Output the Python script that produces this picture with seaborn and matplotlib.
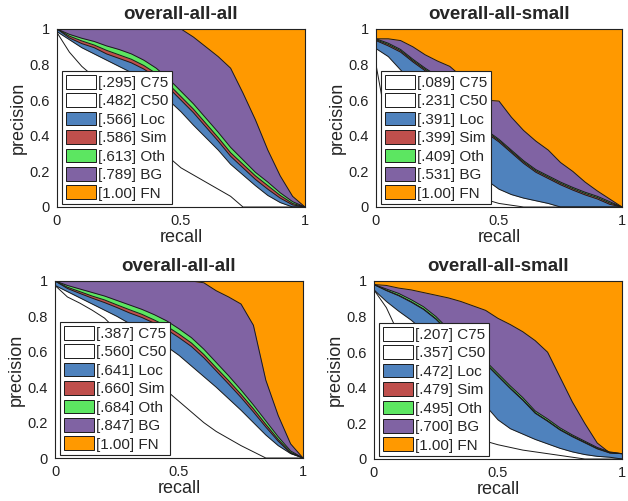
import matplotlib
matplotlib.use('Agg')
import matplotlib.pyplot as plt
import seaborn as sns
from matplotlib.patches import Patch

# recall grid shared by all panels
recall = [0.00, 0.05, 0.10, 0.15, 0.20, 0.25, 0.30, 0.35, 0.40, 0.45, 0.50,
          0.55, 0.60, 0.65, 0.70, 0.75, 0.80, 0.85, 0.90, 0.95, 1.00]

names = ['C75', 'C50', 'Loc', 'Sim', 'Oth', 'BG', 'FN']
titles = ['overall-all-all', 'overall-all-small', 'overall-all-all', 'overall-all-small']

# top-left panel
tl_c75 = [.98, .87, .79, .73, .67, .61, .53, .45, .36, .28, .22, .18, .14, .10, .06, 0, 0, 0, 0, 0, 0]
tl_c50 = [.985, .94, .895, .86, .825, .79, .755, .715, .665, .60, .535, .46, .39, .32, .24, .18, .12, .065, .025, 0, 0]
tl_loc = [1.0, .95, .918, .895, .86, .835, .81, .775, .73, .67, .60, .53, .45, .37, .285, .22, .155, .10, .05, .012, 0]
tl_sim = [1.0, .96, .933, .91, .88, .855, .83, .795, .75, .69, .62, .55, .47, .39, .305, .24, .175, .12, .065, .02, 0]
tl_oth = [1.0, .97, .948, .93, .905, .885, .86, .825, .78, .72, .65, .58, .50, .42, .335, .265, .195, .14, .08, .03, 0]
tl_bg = [1, 1, 1, 1, 1, 1, 1, 1, 1, 1, 1, .955, .90, .845, .78, .64, .49, .32, .175, .06, 0]
tl_ap = ['.295', '.482', '.566', '.586', '.613', '.789', '1.00']

# top-right panel
tr_c75 = [.80, .42, .33, .27, .22, .17, .13, .10, .07, .04, .02, .01, 0, 0, 0, 0, 0, 0, 0, 0, 0]
tr_c50 = [.89, .845, .77, .70, .62, .53, .44, .35, .25, .15, .10, .07, .05, .035, .02, 0, 0, 0, 0, 0, 0]
tr_loc = [.935, .905, .87, .815, .765, .72, .645, .565, .485, .415, .365, .305, .245, .195, .16, .125, .095, .068, .045, .015, 0]
tr_sim = [.94, .913, .878, .823, .773, .728, .653, .573, .493, .423, .373, .313, .253, .203, .168, .133, .103, .076, .053, .023, 0]
tr_oth = [.945, .92, .885, .83, .78, .735, .66, .58, .50, .43, .38, .32, .26, .21, .175, .14, .11, .083, .06, .03, 0]
tr_bg = [.945, .945, .935, .90, .855, .82, .79, .73, .65, .60, .595, .505, .43, .37, .32, .25, .20, .14, .09, .045, 0]
tr_ap = ['.089', '.231', '.391', '.399', '.409', '.531', '1.00']

# bottom-left panel
bl_c75 = [.975, .91, .875, .835, .79, .72, .62, .55, .46, .38, .32, .26, .20, .15, .11, .07, .035, 0, 0, 0, 0]
bl_c50 = [.975, .94, .905, .87, .835, .80, .76, .72, .68, .63, .58, .52, .46, .40, .335, .27, .20, .13, .07, .025, 0]
bl_loc = [1.0, .958, .93, .903, .878, .85, .82, .794, .762, .726, .68, .63, .566, .492, .418, .342, .26, .175, .095, .027, 0]
bl_sim = [1.0, .965, .94, .915, .893, .865, .838, .812, .78, .745, .70, .65, .585, .51, .437, .36, .278, .19, .105, .032, 0]
bl_oth = [1.0, .975, .955, .935, .915, .89, .865, .84, .81, .775, .73, .68, .615, .54, .465, .385, .30, .21, .12, .04, 0]
bl_bg = [1, 1, 1, 1, 1, 1, 1, 1, 1, 1, 1, 1, .99, .945, .91, .87, .75, .44, .24, .08, 0]
bl_ap = ['.387', '.560', '.641', '.660', '.684', '.847', '1.00']

# bottom-right panel
br_c75 = [.95, .85, .70, .55, .42, .32, .24, .18, .13, .10, .08, .065, .05, .04, .03, .02, .01, 0, 0, 0, 0]
br_c50 = [.95, .885, .83, .78, .72, .64, .56, .48, .40, .30, .22, .17, .14, .11, .085, .06, .04, .025, .015, .01, 0]
br_loc = [.98, .946, .917, .881, .84, .785, .715, .65, .595, .535, .465, .395, .33, .257, .212, .163, .125, .091, .057, .034, .03]
br_sim = [.98, .948, .92, .884, .843, .788, .718, .653, .598, .538, .468, .398, .333, .26, .215, .166, .128, .094, .06, .036, .03]
br_oth = [.98, .955, .93, .895, .855, .80, .73, .665, .61, .55, .48, .41, .345, .27, .225, .175, .135, .10, .065, .04, .03]
br_bg = [.98, .975, .96, .95, .935, .92, .905, .885, .86, .835, .79, .755, .715, .665, .60, .46, .32, .20, .09, .035, .03]
br_ap = ['.207', '.357', '.472', '.479', '.495', '.700', '1.00']

fn = [1.0] * len(recall)

colors = ['#ffffff', '#ffffff', '#4f82bd', '#bf4f4c', '#5ce661', '#8063a3', '#ff9900']

sns.set_theme(style='white')
plt.rcParams['font.family'] = ['Liberation Sans', 'DejaVu Sans']

fig = plt.figure(figsize=(6.28, 5.01), dpi=100)
boxes = [
    [57 / 628, 1 - 207 / 501, 248 / 628, 178 / 501],
    [376 / 628, 1 - 207 / 501, 246 / 628, 178 / 501],
    [55 / 628, 1 - 458 / 501, 248 / 628, 177 / 501],
    [374 / 628, 1 - 459 / 501, 248 / 628, 178 / 501],
]
panels = [
    [tl_c75, tl_c50, tl_loc, tl_sim, tl_oth, tl_bg, fn],
    [tr_c75, tr_c50, tr_loc, tr_sim, tr_oth, tr_bg, fn],
    [bl_c75, bl_c50, bl_loc, bl_sim, bl_oth, bl_bg, fn],
    [br_c75, br_c50, br_loc, br_sim, br_oth, br_bg, fn],
]
aps = [tl_ap, tr_ap, bl_ap, br_ap]

for box, curves, ap, title in zip(boxes, panels, aps, titles):
    ax = fig.add_axes(box)
    # draw largest area first so smaller ones stack on top
    for i in range(6, -1, -1):
        ax.fill_between(recall, 0, curves[i], color=colors[i], lw=0)
        sns.lineplot(x=recall, y=curves[i], ax=ax, color='#1a1a1a', lw=0.7,
                     sort=False, estimator=None)
    ax.set_xlim(0, 1)
    ax.set_ylim(0, 1)
    ax.set_xticks([0, 0.5, 1])
    ax.set_xticklabels(['0', '0.5', '1'])
    ax.set_yticks([0, 0.2, 0.4, 0.6, 0.8, 1])
    ax.set_yticklabels(['0', '0.2', '0.4', '0.6', '0.8', '1'])
    ax.tick_params(direction='in', length=3, width=0.6, top=True, right=True,
                   bottom=True, left=True, labelsize=10.5, pad=5, colors='#222222')
    for sp in ax.spines.values():
        sp.set_color('#222222')
        sp.set_linewidth(0.8)
    ax.set_xlabel('recall', fontsize=13, labelpad=1)
    ax.set_ylabel('precision', fontsize=13, labelpad=2)
    ax.set_title(title, fontsize=13.5, fontweight='bold', pad=7)

    handles = [Patch(facecolor=colors[i], edgecolor='k', lw=0.7) for i in range(7)]
    labels = ['[%s] %s' % (ap[i], names[i]) for i in range(7)]
    leg = ax.legend(handles, labels, loc='lower left', bbox_to_anchor=(0.02, 0.015),
                    fontsize=11, frameon=True, fancybox=False, framealpha=1,
                    edgecolor='#222222', borderpad=0.25, labelspacing=0.22,
                    handlelength=2.0, handleheight=1.0, handletextpad=0.1,
                    borderaxespad=0)
    leg.get_frame().set_linewidth(0.8)

fig.savefig('out.png', dpi=100)
